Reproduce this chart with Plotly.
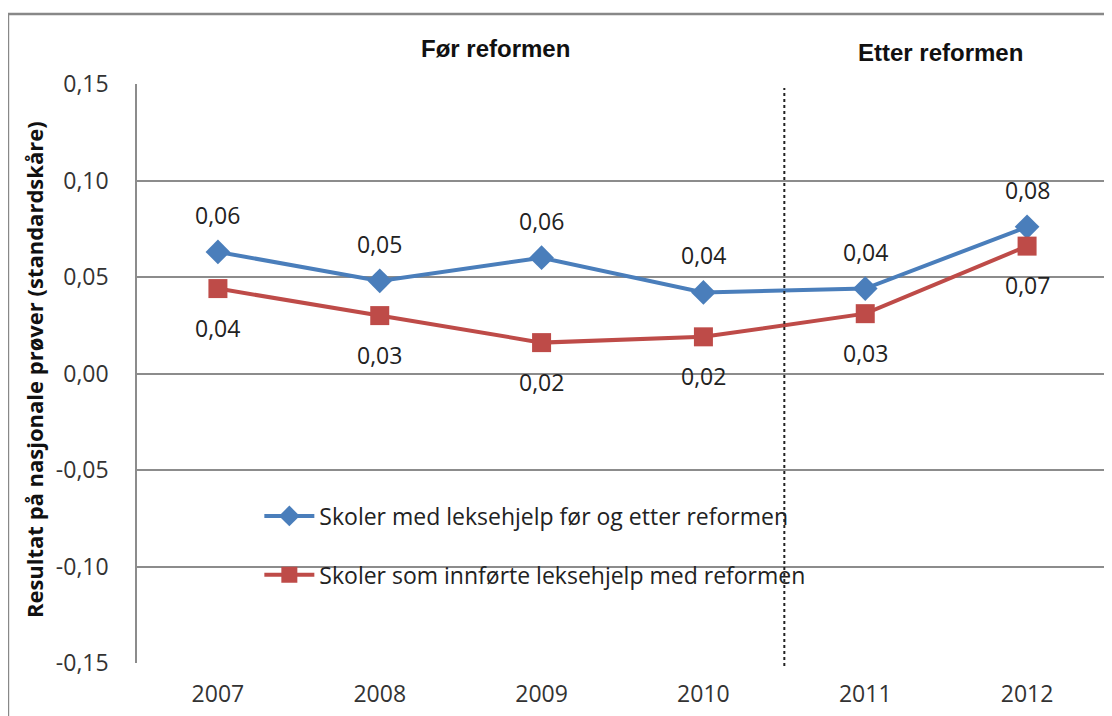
import plotly.graph_objects as go

# Data
years = ["2007", "2008", "2009", "2010", "2011", "2012"]
med_leksehjelp = [0.063, 0.048, 0.060, 0.042, 0.044, 0.076]
innforte_leksehjelp = [0.044, 0.030, 0.016, 0.019, 0.031, 0.066]
y_ticks = [0.15, 0.10, 0.05, 0.00, -0.05, -0.10, -0.15]
y_ticktext = ["0,15", "0,10", "0,05", "0,00", "-0,05", "-0,10", "-0,15"]

BLUE = "#4A7EBB"
RED = "#BE4B48"
GRID = "#8c8c8c"
FONT = "Open Sans, Noto Sans, sans-serif"


def komma(v):
    return f"{v:.2f}".replace(".", ",")


fig = go.Figure()

fig.add_trace(go.Scatter(
    x=years, y=med_leksehjelp, mode="lines+markers",
    name="Skoler med leksehjelp før og etter reformen",
    legendgroup="a",
    line=dict(color=BLUE, width=4),
    marker=dict(symbol="diamond", size=19, color=BLUE),
))
fig.add_trace(go.Scatter(
    x=years, y=innforte_leksehjelp, mode="lines+markers",
    name="Skoler som innførte leksehjelp med reformen",
    legendgroup="b",
    line=dict(color=RED, width=4),
    marker=dict(symbol="square", size=19, color=RED),
))

# Data labels: blue above, red below (x as category index)
for i, v in enumerate(med_leksehjelp):
    fig.add_annotation(x=i, y=v, text=komma(v), showarrow=False, yshift=37,
                       font=dict(size=23, color="#222"))
for i, v in enumerate(innforte_leksehjelp):
    fig.add_annotation(x=i, y=v, text=komma(v), showarrow=False, yshift=-39,
                       font=dict(size=23, color="#222"))

# Period headings
fig.add_annotation(xref="paper", yref="paper", x=0.369, y=1.062, xanchor="center", yanchor="middle",
                   text="<b>Før reformen</b>", showarrow=False,
                   font=dict(family="Liberation Sans, Arial", size=24, color="#111"))
fig.add_annotation(xref="paper", yref="paper", x=0.827, y=1.054, xanchor="center", yanchor="middle",
                   text="<b>Etter reformen</b>", showarrow=False,
                   font=dict(family="Liberation Sans, Arial", size=24, color="#111"))

# Y axis title
fig.add_annotation(xref="paper", yref="paper", x=-0.106, y=0.506, xanchor="center", yanchor="middle",
                   textangle=-90, text="<b>Resultat på nasjonale prøver (standardskåre)</b>",
                   showarrow=False, font=dict(size=22, color="#111"))

# Reform divider
fig.add_shape(type="line", xref="x", yref="paper", x0=3.5, x1=3.5, y0=-0.005, y1=0.993,
              line=dict(color="#222", width=2, dash="dot"))

# Outer chart border
fig.add_shape(type="rect", xref="paper", yref="paper", x0=-0.1329, x1=1.2, y0=-0.3, y1=1.1209,
              line=dict(color="#888", width=2.5), layer="below")

fig.update_layout(
    width=1112, height=716,
    margin=dict(l=129, r=12, t=76, b=61),
    paper_bgcolor="white", plot_bgcolor="white",
    font=dict(family=FONT, size=23, color="#333"),
    showlegend=True,
    legend=dict(x=0.126, y=0.291, xanchor="left", yanchor="top",
                bgcolor="rgba(0,0,0,0)", tracegroupgap=26, itemwidth=50,
                font=dict(size=23, color="#222")),
    xaxis=dict(type="category", range=[-0.5, 5.5], showgrid=False, showline=False,
               ticks="", ticklabelstandoff=15, tickfont=dict(size=23, color="#333")),
    yaxis=dict(range=[-0.15, 0.15], tickvals=y_ticks, ticktext=y_ticktext,
               showgrid=True, gridcolor=GRID, gridwidth=1.5, zeroline=False,
               showline=True, linecolor=GRID, linewidth=1.5, ticks="",
               ticklabelstandoff=22, tickfont=dict(size=23, color="#333")),
)

fig.write_html("out.html")
